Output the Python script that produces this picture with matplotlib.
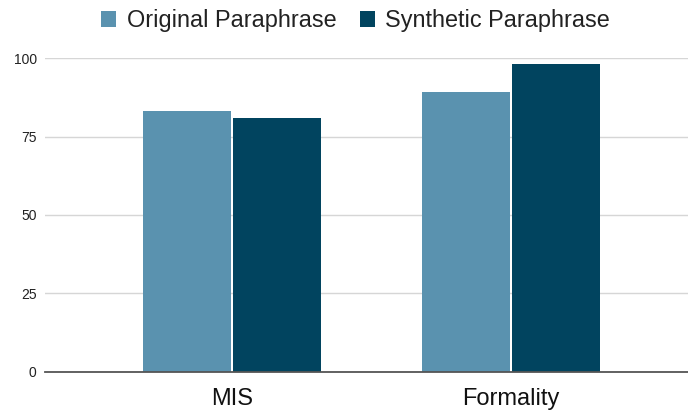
import matplotlib
matplotlib.use("Agg")
import matplotlib.pyplot as plt
import numpy as np

plt.rcParams['font.family'] = ['Liberation Sans', 'DejaVu Sans']

categories = ["MIS", "Formality"]
series_names = ["Original Paraphrase", "Synthetic Paraphrase"]
original = [83.1, 89.2]
synthetic = [81.0, 98.3]
colors = ["#5a92af", "#01445f"]

fig = plt.figure(figsize=(6.88, 4.11), dpi=100)
ax = fig.add_axes([45/688, 1 - 371.5/411, 1 - 45/688, (371.5 - 58.3)/411])

x = np.arange(len(categories))
w = 0.315
gap = 0.004
ax.bar(x - w/2 - gap, original, width=w, color=colors[0], label=series_names[0], zorder=3)
ax.bar(x + w/2 + gap, synthetic, width=w, color=colors[1], label=series_names[1], zorder=3)

ax.set_ylim(0, 100)
ax.set_xlim(-0.670, 1.634)
ax.set_yticks([0, 25, 50, 75, 100])
ax.set_xticks(x)
ax.set_xticklabels(categories, fontsize=17, color='#111111')
ax.tick_params(axis='x', length=0, pad=12)
ax.tick_params(axis='y', length=0, labelsize=10, pad=6, colors='#222222')
ax.grid(axis='y', color='#d6d6d6', linewidth=1, zorder=0)
for s in ['top', 'right', 'left']:
    ax.spines[s].set_visible(False)
ax.spines['bottom'].set_color('#555555')
ax.spines['bottom'].set_linewidth(1.3)
ax.spines['bottom'].set_zorder(4)

fig.legend(loc='center', bbox_to_anchor=(0.517, 0.950), ncol=2, frameon=False,
           fontsize=16.9, handlelength=0.65, handleheight=0.65, handletextpad=0.44,
           columnspacing=1.0, labelcolor='#222222')

fig.savefig("out.png", dpi=100)
